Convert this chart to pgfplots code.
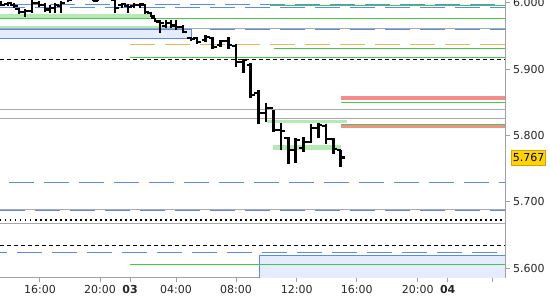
\documentclass[border=0pt]{standalone}
\usepackage{pgfplots}
\usepackage{pgfplotstable}
\pgfplotsset{compat=1.18}
\usepackage{fontspec}
\setmainfont{DejaVu Sans}
\definecolor{blueline}{RGB}{90,140,235}
\definecolor{greenline}{RGB}{70,200,70}
\definecolor{lightgreen}{RGB}{180,235,180}
\definecolor{grayline}{RGB}{170,170,170}
\definecolor{orangeline}{RGB}{245,180,80}
\definecolor{redband}{RGB}{245,140,140}
\definecolor{lightblue}{RGB}{230,236,255}
\definecolor{axisgray}{RGB}{160,160,160}
\definecolor{gold}{RGB}{255,212,0}
\definecolor{golddark}{RGB}{210,165,0}

\pgfplotstableread{
x high low open close
1 6.0030 5.9955 6.0000 5.9970
8 6.0015 5.9955 5.9985 6.0000
14 6.0000 5.9925 5.9970 5.9955
19 5.9925 5.9834 5.9910 5.9864
25 5.9910 5.9789 5.9864 5.9879
32 6.0075 5.9849 5.9879 6.0000
39 6.0030 5.9940 6.0000 5.9970
45 6.0000 5.9864 5.9970 5.9910
50 5.9970 5.9849 5.9894 5.9925
55 6.0000 5.9849 5.9925 5.9970
61 6.0030 5.9849 5.9955 6.0000
68 6.0121 6.0015 6.0091 6.0045
75 6.0196 6.0091 6.0120 6.0150
82 6.0180 6.0080 6.0150 6.0100
87 6.0120 6.0040 6.0100 6.0060
93 6.0091 6.0023 6.0060 6.0030
98 6.0106 6.0030 6.0030 6.0080
105 6.0166 6.0075 6.0080 6.0140
110 6.0136 6.0060 6.0140 6.0070
115 6.0075 5.9849 6.0045 5.9925
122 6.0000 5.9925 5.9970 5.9985
128 5.9985 5.9849 5.9955 5.9940
134 6.0000 5.9925 5.9955 5.9970
140 6.0000 5.9925 5.9970 5.9985
145 5.9985 5.9834 5.9970 5.9864
151 5.9864 5.9789 5.9849 5.9804
155 5.9774 5.9713 5.9774 5.9728
160 5.9743 5.9547 5.9713 5.9698
166 5.9743 5.9623 5.9653 5.9698
171 5.9743 5.9623 5.9698 5.9653
176 5.9743 5.9592 5.9668 5.9638
183 5.9668 5.9547 5.9638 5.9562
191 5.9487 5.9427 5.9472 5.9457
197 5.9487 5.9381 5.9472 5.9411
205.7 5.9517 5.9416 5.9442 5.9487
212.7 5.9487 5.9306 5.9472 5.9336
220.7 5.9442 5.9336 5.9366 5.9427
228.3 5.9487 5.9306 5.9427 5.9366
236 5.9381 5.9039 5.9351 5.9110
243.3 5.9155 5.8939 5.9110 5.9140
250.7 5.9094 5.8566 5.9064 5.8611
258.3 5.8687 5.8174 5.8641 5.8340
266 5.8491 5.8208 5.8340 5.8415
273.3 5.8385 5.8057 5.8415 5.8083
281 5.8189 5.7781 5.8083 5.8068
288.3 5.7982 5.7570 5.7962 5.7781
295.7 5.7962 5.7590 5.7781 5.7932
303.3 5.7982 5.7756 5.7811 5.7902
311 5.8174 5.7887 5.7902 5.8113
318.3 5.8189 5.7967 5.8113 5.8159
326 5.8174 5.7872 5.8144 5.7947
333.3 5.7962 5.7721 5.7947 5.7796
340.7 5.7781 5.7529 5.7781 5.7670
}\bars

\begin{document}
\begin{tikzpicture}
\useasboundingbox (0,0) rectangle (550pt,-300pt);
\begin{axis}[
  at={(0,0)}, anchor=north west,
  scale only axis, width=505pt, height=277.7pt,
  xmin=0, xmax=505, ymin=5.5854, ymax=6.0045,
  axis x line*=bottom, axis y line*=right,
  axis line style={draw=axisgray, line width=1pt},
  tick style={draw=axisgray, line width=1pt},
  tick align=outside, major tick length=4.5pt,
  xtick={40,100,130,176,236,296.7,356.7,417.7,447.7,492.3},
  xticklabels={16:00,20:00,\textbf{03},04:00,08:00,12:00,16:00,20:00,\textbf{04},{}},
  ytick={5.6,5.7,5.8,5.9,6.0},
  /pgf/number format/assume math mode=true,
  yticklabel style={/pgf/number format/.cd,fixed,fixed zerofill,precision=3},
  ticklabel style={font=\fontsize{11}{13}\selectfont, text=black!85},
  clip=true,
]
% bands and boxes
\addplot[fill=lightgreen, draw=none] coordinates {(0,5.9834) (150,5.9834) (150,5.9778) (0,5.9778)} -- cycle;
\addplot[fill=lightgreen, draw=none] coordinates {(0,5.9653) (183,5.9653) (183,5.9612) (0,5.9612)} -- cycle;
\addplot[fill=lightblue, draw=none] coordinates {(0,5.9603) (191,5.9603) (191,5.9467) (0,5.9467)} -- cycle;
\addplot[blueline, line width=1pt] coordinates {(0,5.9603) (191,5.9603) (191,5.9467) (0,5.9467)};
\addplot[fill=lightgreen, draw=none] coordinates {(266.7,5.8234) (346.7,5.8234) (346.7,5.8184) (266.7,5.8184)} -- cycle;
\addplot[fill=lightgreen, draw=none] coordinates {(272.7,5.7857) (340.7,5.7857) (340.7,5.7781) (272.7,5.7781)} -- cycle;
\addplot[fill=lightblue, draw=none] coordinates {(259.3,5.6192) (505,5.6192) (505,5.58) (259.3,5.58)} -- cycle;
\addplot[blueline, line width=1pt] coordinates {(259.3,5.58) (259.3,5.6192) (505,5.6192)};
% horizontal lines
\addplot[blueline, line width=1pt, dash pattern=on 25pt off 10pt, dash phase=-15pt] coordinates {(0,5.9980) (505,5.9980)};
\addplot[greenline, line width=1pt] coordinates {(270,5.9965) (505,5.9965)};
\addplot[blueline, line width=1pt, dash pattern=on 25pt off 10pt, dash phase=0pt] coordinates {(0,5.9925) (505,5.9925)};
\addplot[greenline, line width=1pt] coordinates {(0,5.9769) (505,5.9769)};
\addplot[grayline, line width=1pt] coordinates {(0,5.9612) (505,5.9612)};
\addplot[blueline, line width=1pt, dash pattern=on 25pt off 10pt, dash phase=-10pt] coordinates {(200,5.9603) (505,5.9603)};
\addplot[orangeline, line width=1pt, dash pattern=on 25pt off 10pt] coordinates {(130,5.9366) (505,5.9366)};
\addplot[greenline, line width=1pt] coordinates {(274,5.9316) (505,5.9316)};
\addplot[greenline, line width=1pt] coordinates {(130,5.9180) (505,5.9180)};
\addplot[black, line width=1pt, dash pattern=on 4pt off 3pt] coordinates {(0,5.9150) (505,5.9150)};
\addplot[redband, line width=4pt] coordinates {(341,5.8571) (505,5.8571)};
\addplot[greenline, line width=1pt] coordinates {(341,5.8501) (505,5.8501)};
\addplot[grayline, line width=1pt] coordinates {(0,5.8400) (505,5.8400)};
\addplot[grayline, line width=1pt] coordinates {(0,5.8260) (505,5.8260)};
\addplot[greenline, line width=1pt] coordinates {(341,5.8169) (505,5.8169)};
\addplot[redband, line width=3pt] coordinates {(341,5.8137) (505,5.8137)};
\addplot[blueline, line width=1pt, dash pattern=on 25pt off 10pt, dash phase=-9pt] coordinates {(0,5.7294) (505,5.7294)};
\addplot[grayline, line width=1pt] coordinates {(0,5.6886) (505,5.6886)};
\addplot[blueline, line width=1.6pt, dash pattern=on 25pt off 10pt] coordinates {(0,5.6871) (505,5.6871)};
\addplot[black, line width=1.3pt, dash pattern=on 1.5pt off 3.5pt] coordinates {(0,5.6725) (505,5.6725)};
\addplot[grayline, line width=1pt] coordinates {(0,5.6675) (505,5.6675)};
\addplot[black, line width=1pt, dash pattern=on 4pt off 3pt] coordinates {(0,5.6336) (505,5.6336)};
\addplot[blueline, line width=1pt, dash pattern=on 25pt off 10pt, dash phase=-17pt] coordinates {(0,5.6237) (505,5.6237)};
\addplot[greenline, line width=1pt] coordinates {(130,5.6056) (505,5.6056)};
% OHLC bars
\addplot[draw=none, error bars/.cd, y dir=plus, y explicit, error mark=none,
  error bar style={draw=black, line width=2.6pt}]
  table[x=x, y=low, y error expr=\thisrow{high}-\thisrow{low}] {\bars};
\addplot[draw=none, error bars/.cd, x dir=minus, x fixed=4, error mark=none,
  error bar style={draw=black, line width=2.4pt}]
  table[x=x, y=open] {\bars};
\addplot[draw=none, error bars/.cd, x dir=plus, x fixed=4, error mark=none,
  error bar style={draw=black, line width=2.4pt}]
  table[x=x, y=close] {\bars};
\coordinate (lastp) at (axis cs:505,5.767);
\end{axis}
\node[anchor=west, xshift=6pt, fill=gold, draw=golddark, line width=0.6pt, inner sep=1.5pt,
  minimum height=15pt, font=\fontsize{11}{13}\selectfont] at (lastp) {5.767};
\end{tikzpicture}
\end{document}
